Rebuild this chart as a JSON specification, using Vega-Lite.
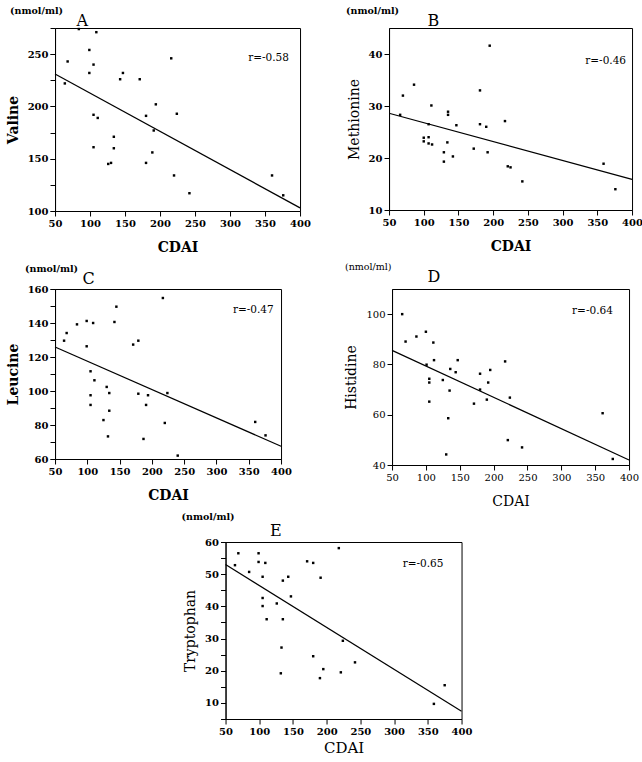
{
  "$schema": "https://vega.github.io/schema/vega-lite/v6.json",
  "background": "white",
  "padding": 5,
  "config": {
    "view": {"stroke": "black", "strokeWidth": 1},
    "axis": {
      "labelFont": "DejaVu Serif", "titleFont": "DejaVu Serif",
      "labelColor": "black", "titleColor": "black",
      "domainColor": "black", "tickColor": "black",
      "grid": false, "tickSize": 5, "labelPadding": 2,
      "labelFlush": false, "labelOverlap": false,
      "labelFontSize": 10, "labelFontWeight": "bold",
      "titleFontSize": 14, "titleFontWeight": "bold"
    },
    "axisX": {"titlePadding": 12},
    "axisY": {"titlePadding": 7},
    "title": {"font": "DejaVu Serif", "fontSize": 9.5, "fontWeight": "bold", "color": "black", "anchor": "start", "frame": "group", "offset": -3},
    "text": {"font": "DejaVu Serif", "fontSize": 10.5, "color": "black", "align": "center"},
    "square": {"size": 6, "color": "black", "opacity": 1, "filled": true},
    "line": {"color": "black", "strokeWidth": 1.2}
  },
  "datasets": {
    "points": [
      {"panel": "A", "cdai": 84, "value": 274}, {"panel": "A", "cdai": 109, "value": 271},
      {"panel": "A", "cdai": 99, "value": 254}, {"panel": "A", "cdai": 68, "value": 243},
      {"panel": "A", "cdai": 105, "value": 240}, {"panel": "A", "cdai": 99, "value": 232},
      {"panel": "A", "cdai": 147, "value": 232}, {"panel": "A", "cdai": 143, "value": 226},
      {"panel": "A", "cdai": 171, "value": 226}, {"panel": "A", "cdai": 216, "value": 246},
      {"panel": "A", "cdai": 64, "value": 222}, {"panel": "A", "cdai": 194, "value": 202},
      {"panel": "A", "cdai": 224, "value": 193}, {"panel": "A", "cdai": 180, "value": 191},
      {"panel": "A", "cdai": 105, "value": 192}, {"panel": "A", "cdai": 111, "value": 189},
      {"panel": "A", "cdai": 191, "value": 177}, {"panel": "A", "cdai": 134, "value": 171},
      {"panel": "A", "cdai": 134, "value": 160}, {"panel": "A", "cdai": 105, "value": 161},
      {"panel": "A", "cdai": 189, "value": 156}, {"panel": "A", "cdai": 130, "value": 146},
      {"panel": "A", "cdai": 126, "value": 145}, {"panel": "A", "cdai": 180, "value": 146},
      {"panel": "A", "cdai": 220, "value": 134}, {"panel": "A", "cdai": 242, "value": 117},
      {"panel": "A", "cdai": 360, "value": 134}, {"panel": "A", "cdai": 376, "value": 115},

      {"panel": "B", "cdai": 195, "value": 41.6}, {"panel": "B", "cdai": 86, "value": 34.1},
      {"panel": "B", "cdai": 181, "value": 33}, {"panel": "B", "cdai": 70, "value": 32},
      {"panel": "B", "cdai": 111, "value": 30.1}, {"panel": "B", "cdai": 135, "value": 28.9},
      {"panel": "B", "cdai": 135, "value": 28.3}, {"panel": "B", "cdai": 66, "value": 28.3},
      {"panel": "B", "cdai": 217, "value": 27.1}, {"panel": "B", "cdai": 107, "value": 26.5},
      {"panel": "B", "cdai": 147, "value": 26.3}, {"panel": "B", "cdai": 181, "value": 26.5},
      {"panel": "B", "cdai": 190, "value": 26}, {"panel": "B", "cdai": 100, "value": 23.9},
      {"panel": "B", "cdai": 107, "value": 24}, {"panel": "B", "cdai": 100, "value": 23.2},
      {"panel": "B", "cdai": 107, "value": 22.8}, {"panel": "B", "cdai": 112, "value": 22.6},
      {"panel": "B", "cdai": 134, "value": 23}, {"panel": "B", "cdai": 172, "value": 21.8},
      {"panel": "B", "cdai": 129, "value": 21.1}, {"panel": "B", "cdai": 192, "value": 21.1},
      {"panel": "B", "cdai": 142, "value": 20.3}, {"panel": "B", "cdai": 129, "value": 19.3},
      {"panel": "B", "cdai": 221, "value": 18.4}, {"panel": "B", "cdai": 225, "value": 18.2},
      {"panel": "B", "cdai": 242, "value": 15.5}, {"panel": "B", "cdai": 359, "value": 18.9},
      {"panel": "B", "cdai": 376, "value": 14},

      {"panel": "C", "cdai": 217, "value": 154.7}, {"panel": "C", "cdai": 145, "value": 149.6},
      {"panel": "C", "cdai": 99, "value": 141.2}, {"panel": "C", "cdai": 109, "value": 140},
      {"panel": "C", "cdai": 142, "value": 140.6}, {"panel": "C", "cdai": 84, "value": 139.2},
      {"panel": "C", "cdai": 68, "value": 134.1}, {"panel": "C", "cdai": 64, "value": 129.6},
      {"panel": "C", "cdai": 179, "value": 129.6}, {"panel": "C", "cdai": 171, "value": 127.3},
      {"panel": "C", "cdai": 99, "value": 126.3}, {"panel": "C", "cdai": 105, "value": 111.6},
      {"panel": "C", "cdai": 111, "value": 106.3}, {"panel": "C", "cdai": 130, "value": 102.4},
      {"panel": "C", "cdai": 134, "value": 98.8}, {"panel": "C", "cdai": 179, "value": 98.4},
      {"panel": "C", "cdai": 194, "value": 97.5}, {"panel": "C", "cdai": 224, "value": 98.8},
      {"panel": "C", "cdai": 105, "value": 97.5}, {"panel": "C", "cdai": 191, "value": 91.8},
      {"panel": "C", "cdai": 105, "value": 91.8}, {"panel": "C", "cdai": 134, "value": 88.4},
      {"panel": "C", "cdai": 125, "value": 82.9}, {"panel": "C", "cdai": 220, "value": 81.2},
      {"panel": "C", "cdai": 360, "value": 81.8}, {"panel": "C", "cdai": 376, "value": 73.9},
      {"panel": "C", "cdai": 132, "value": 73.3}, {"panel": "C", "cdai": 187, "value": 71.8},
      {"panel": "C", "cdai": 240, "value": 62},

      {"panel": "D", "cdai": 65, "value": 100}, {"panel": "D", "cdai": 70, "value": 89.1},
      {"panel": "D", "cdai": 86, "value": 91.1}, {"panel": "D", "cdai": 100, "value": 93},
      {"panel": "D", "cdai": 111, "value": 88.7}, {"panel": "D", "cdai": 112, "value": 81.7},
      {"panel": "D", "cdai": 147, "value": 81.7}, {"panel": "D", "cdai": 217, "value": 81.2},
      {"panel": "D", "cdai": 101, "value": 79.9}, {"panel": "D", "cdai": 136, "value": 78.2},
      {"panel": "D", "cdai": 195, "value": 77.8}, {"panel": "D", "cdai": 144, "value": 76.9},
      {"panel": "D", "cdai": 180, "value": 76.3}, {"panel": "D", "cdai": 105, "value": 74.3},
      {"panel": "D", "cdai": 105, "value": 72.8}, {"panel": "D", "cdai": 125, "value": 73.8},
      {"panel": "D", "cdai": 192, "value": 72.8}, {"panel": "D", "cdai": 135, "value": 69.6},
      {"panel": "D", "cdai": 180, "value": 70}, {"panel": "D", "cdai": 190, "value": 66},
      {"panel": "D", "cdai": 224, "value": 66.8}, {"panel": "D", "cdai": 171, "value": 64.4},
      {"panel": "D", "cdai": 105, "value": 65.2}, {"panel": "D", "cdai": 133, "value": 58.6},
      {"panel": "D", "cdai": 221, "value": 49.9}, {"panel": "D", "cdai": 242, "value": 47},
      {"panel": "D", "cdai": 130, "value": 44.2}, {"panel": "D", "cdai": 361, "value": 60.6},
      {"panel": "D", "cdai": 376, "value": 42.4},

      {"panel": "E", "cdai": 218, "value": 58.1}, {"panel": "E", "cdai": 69, "value": 56.5},
      {"panel": "E", "cdai": 99, "value": 56.5}, {"panel": "E", "cdai": 171, "value": 54},
      {"panel": "E", "cdai": 180, "value": 53.5}, {"panel": "E", "cdai": 99, "value": 53.8},
      {"panel": "E", "cdai": 109, "value": 53.5}, {"panel": "E", "cdai": 64, "value": 52.8},
      {"panel": "E", "cdai": 85, "value": 50.7}, {"panel": "E", "cdai": 105, "value": 49.2},
      {"panel": "E", "cdai": 143, "value": 49.2}, {"panel": "E", "cdai": 191, "value": 48.9},
      {"panel": "E", "cdai": 135, "value": 48}, {"panel": "E", "cdai": 147, "value": 43.1},
      {"panel": "E", "cdai": 105, "value": 42.6}, {"panel": "E", "cdai": 105, "value": 40.1},
      {"panel": "E", "cdai": 126, "value": 40.9}, {"panel": "E", "cdai": 111, "value": 36},
      {"panel": "E", "cdai": 135, "value": 36}, {"panel": "E", "cdai": 224, "value": 29.3},
      {"panel": "E", "cdai": 133, "value": 27.2}, {"panel": "E", "cdai": 180, "value": 24.5},
      {"panel": "E", "cdai": 242, "value": 22.6}, {"panel": "E", "cdai": 195, "value": 20.5},
      {"panel": "E", "cdai": 132, "value": 19.2}, {"panel": "E", "cdai": 221, "value": 19.5},
      {"panel": "E", "cdai": 190, "value": 17.7}, {"panel": "E", "cdai": 375, "value": 15.5},
      {"panel": "E", "cdai": 359, "value": 9.7}
    ],
    "fits": [
      {"panel": "A", "cdai": 50, "value": 231}, {"panel": "A", "cdai": 400, "value": 103},
      {"panel": "B", "cdai": 50, "value": 28.6}, {"panel": "B", "cdai": 400, "value": 15.9},
      {"panel": "C", "cdai": 50, "value": 125.9}, {"panel": "C", "cdai": 400, "value": 67.5},
      {"panel": "D", "cdai": 50, "value": 85.6}, {"panel": "D", "cdai": 400, "value": 42},
      {"panel": "E", "cdai": 50, "value": 53}, {"panel": "E", "cdai": 400, "value": 7.4}
    ],
    "labels": [
      {"panel": "A", "cdai": 355, "value": 246, "text": "r=-0.58"},
      {"panel": "B", "cdai": 362, "value": 38.6, "text": "r=-0.46"},
      {"panel": "C", "cdai": 357, "value": 147.8, "text": "r=-0.47"},
      {"panel": "D", "cdai": 346, "value": 101.3, "text": "r=-0.64"},
      {"panel": "E", "cdai": 343, "value": 53.3, "text": "r=-0.65"}
    ]
  },
  "vconcat": [
    {
      "vconcat": [
        {
          "hconcat": [
            {
              "width": 245, "height": 183,
              "title": {"text": "(nmol/ml)", "dx": -45},
              "layer": [
                {
                  "data": {"name": "points"},
                  "transform": [{"filter": "datum.panel == 'A'"}],
                  "mark": "square",
                  "encoding": {
                    "x": {"field": "cdai", "type": "quantitative", "scale": {"domain": [50, 400], "nice": false, "zero": false},
                          "axis": {"title": "CDAI", "values": [50, 100, 150, 200, 250, 300, 350, 400]}},
                    "y": {"field": "value", "type": "quantitative", "scale": {"domain": [100, 275], "nice": false, "zero": false},
                          "axis": {"title": "Valine", "values": [100, 150, 200, 250]}}
                  }
                },
                {
                  "data": {"name": "fits"},
                  "transform": [{"filter": "datum.panel == 'A'"}],
                  "mark": "line",
                  "encoding": {
                    "x": {"field": "cdai", "type": "quantitative",
                          "axis": {"orient": "top", "title": "A", "labels": false, "ticks": false, "domain": false, "titleAnchor": "start", "titleAlign": "left", "titleX": 21, "titleFontSize": 16, "titleFontWeight": "normal", "titlePadding": 0}},
                    "y": {"field": "value", "type": "quantitative",
                          "axis": {"orient": "left", "title": null, "labels": false, "domain": false, "values": [100, 125, 150, 175, 200, 225, 250, 275]}}
                  }
                },
                {
                  "data": {"name": "labels"},
                  "transform": [{"filter": "datum.panel == 'A'"}],
                  "mark": "text",
                  "encoding": {
                    "x": {"field": "cdai", "type": "quantitative", "axis": null},
                    "y": {"field": "value", "type": "quantitative", "axis": null},
                    "text": {"field": "text"}
                  }
                }
              ],
              "resolve": {"axis": {"x": "independent", "y": "independent"}}
            },
            {
              "width": 243, "height": 182,
              "title": {"text": "(nmol/ml)", "dx": -43},
              "layer": [
                {
                  "data": {"name": "points"},
                  "transform": [{"filter": "datum.panel == 'B'"}],
                  "mark": "square",
                  "encoding": {
                    "x": {"field": "cdai", "type": "quantitative", "scale": {"domain": [50, 400], "nice": false, "zero": false},
                          "axis": {"title": "CDAI", "values": [50, 100, 150, 200, 250, 300, 350, 400]}},
                    "y": {"field": "value", "type": "quantitative", "scale": {"domain": [10, 45], "nice": false, "zero": false},
                          "axis": {"title": "Methionine", "titleFontWeight": "normal", "values": [10, 15, 20, 25, 30, 35, 40, 45]}}
                  }
                },
                {
                  "data": {"name": "fits"},
                  "transform": [{"filter": "datum.panel == 'B'"}],
                  "mark": "line",
                  "encoding": {
                    "x": {"field": "cdai", "type": "quantitative",
                          "axis": {"orient": "top", "title": "B", "labels": false, "ticks": false, "domain": false, "titleAnchor": "start", "titleAlign": "left", "titleX": 38, "titleFontSize": 16, "titleFontWeight": "normal", "titlePadding": 0}},
                    "y": {"field": "value", "type": "quantitative"}
                  }
                },
                {
                  "data": {"name": "labels"},
                  "transform": [{"filter": "datum.panel == 'B'"}],
                  "mark": "text",
                  "encoding": {
                    "x": {"field": "cdai", "type": "quantitative", "axis": null},
                    "y": {"field": "value", "type": "quantitative"},
                    "text": {"field": "text"}
                  }
                }
              ],
              "resolve": {"axis": {"x": "independent"}}
            }
          ],
          "spacing": 34
        },
        {
          "hconcat": [
            {
              "width": 226, "height": 170,
              "title": {"text": "(nmol/ml)", "dx": -30},
              "layer": [
                {
                  "data": {"name": "points"},
                  "transform": [{"filter": "datum.panel == 'C'"}],
                  "mark": "square",
                  "encoding": {
                    "x": {"field": "cdai", "type": "quantitative", "scale": {"domain": [50, 400], "nice": false, "zero": false},
                          "axis": {"title": "CDAI", "values": [50, 100, 150, 200, 250, 300, 350, 400]}},
                    "y": {"field": "value", "type": "quantitative", "scale": {"domain": [60, 160], "nice": false, "zero": false},
                          "axis": {"title": "Leucine", "values": [60, 80, 100, 120, 140, 160]}}
                  }
                },
                {
                  "data": {"name": "fits"},
                  "transform": [{"filter": "datum.panel == 'C'"}],
                  "mark": "line",
                  "encoding": {
                    "x": {"field": "cdai", "type": "quantitative",
                          "axis": {"orient": "top", "title": "C", "labels": false, "ticks": false, "domain": false, "titleAnchor": "start", "titleAlign": "left", "titleX": 27, "titleFontSize": 16, "titleFontWeight": "normal", "titlePadding": 3}},
                    "y": {"field": "value", "type": "quantitative",
                          "axis": {"orient": "left", "title": null, "labels": false, "domain": false, "values": [60, 70, 80, 90, 100, 110, 120, 130, 140, 150, 160]}}
                  }
                },
                {
                  "data": {"name": "labels"},
                  "transform": [{"filter": "datum.panel == 'C'"}],
                  "mark": "text",
                  "encoding": {
                    "x": {"field": "cdai", "type": "quantitative", "axis": null},
                    "y": {"field": "value", "type": "quantitative", "axis": null},
                    "text": {"field": "text"}
                  }
                }
              ],
              "resolve": {"axis": {"x": "independent", "y": "independent"}}
            },
            {
              "width": 237, "height": 176,
              "title": {"text": "(nmol/ml)", "dx": -47, "fontWeight": "normal"},
              "layer": [
                {
                  "data": {"name": "points"},
                  "transform": [{"filter": "datum.panel == 'D'"}],
                  "mark": "square",
                  "encoding": {
                    "x": {"field": "cdai", "type": "quantitative", "scale": {"domain": [50, 400], "nice": false, "zero": false},
                          "axis": {"title": "CDAI", "titleFontWeight": "normal", "labelFontWeight": "normal", "values": [50, 100, 150, 200, 250, 300, 350, 400]}},
                    "y": {"field": "value", "type": "quantitative", "scale": {"domain": [40, 110], "nice": false, "zero": false},
                          "axis": {"title": "Histidine", "titleFontWeight": "normal", "labelFontWeight": "normal", "values": [40, 50, 60, 70, 80, 90, 100, 110]}}
                  }
                },
                {
                  "data": {"name": "fits"},
                  "transform": [{"filter": "datum.panel == 'D'"}],
                  "mark": "line",
                  "encoding": {
                    "x": {"field": "cdai", "type": "quantitative",
                          "axis": {"orient": "top", "title": "D", "labels": false, "ticks": false, "domain": false, "titleAnchor": "start", "titleAlign": "left", "titleX": 35, "titleFontSize": 16, "titleFontWeight": "normal", "titlePadding": 5}},
                    "y": {"field": "value", "type": "quantitative"}
                  }
                },
                {
                  "data": {"name": "labels"},
                  "transform": [{"filter": "datum.panel == 'D'"}],
                  "mark": "text",
                  "encoding": {
                    "x": {"field": "cdai", "type": "quantitative", "axis": null},
                    "y": {"field": "value", "type": "quantitative"},
                    "text": {"field": "text"}
                  }
                }
              ],
              "resolve": {"axis": {"x": "independent"}}
            }
          ],
          "spacing": 52
        }
      ],
      "spacing": 6
    },
    {
      "width": 236, "height": 177,
      "title": {"text": "(nmol/ml)", "dx": -44, "offset": 1},
      "layer": [
        {
          "data": {"name": "points"},
          "transform": [{"filter": "datum.panel == 'E'"}],
          "mark": "square",
          "encoding": {
            "x": {"field": "cdai", "type": "quantitative", "scale": {"domain": [50, 400], "nice": false, "zero": false},
                  "axis": {"title": "CDAI", "titleFontWeight": "normal", "titleFontSize": 15, "titlePadding": 4, "values": [50, 100, 150, 200, 250, 300, 350, 400]}},
            "y": {"field": "value", "type": "quantitative", "scale": {"domain": [5, 60], "nice": false, "zero": false},
                  "axis": {"title": "Tryptophan", "titleFontWeight": "normal", "values": [10, 20, 30, 40, 50, 60]}}
          }
        },
        {
          "data": {"name": "fits"},
          "transform": [{"filter": "datum.panel == 'E'"}],
          "mark": "line",
          "encoding": {
            "x": {"field": "cdai", "type": "quantitative",
                  "axis": {"orient": "top", "title": "E", "labels": false, "ticks": false, "domain": false, "titleAnchor": "start", "titleAlign": "left", "titleX": 44, "titleFontSize": 16, "titleFontWeight": "normal", "titlePadding": 4}},
            "y": {"field": "value", "type": "quantitative",
                  "axis": {"orient": "left", "title": ".", "titleColor": "transparent", "titleFontSize": 8, "titlePadding": 48, "labels": false, "domain": false, "values": [5, 10, 15, 20, 25, 30, 35, 40, 45, 50, 55, 60]}}
          }
        },
        {
          "data": {"name": "labels"},
          "transform": [{"filter": "datum.panel == 'E'"}],
          "mark": "text",
          "encoding": {
            "x": {"field": "cdai", "type": "quantitative", "axis": null},
            "y": {"field": "value", "type": "quantitative", "axis": null},
            "text": {"field": "text"}
          }
        }
      ],
      "resolve": {"axis": {"x": "independent", "y": "independent"}}
    }
  ],
  "spacing": 2,
  "center": true
}
